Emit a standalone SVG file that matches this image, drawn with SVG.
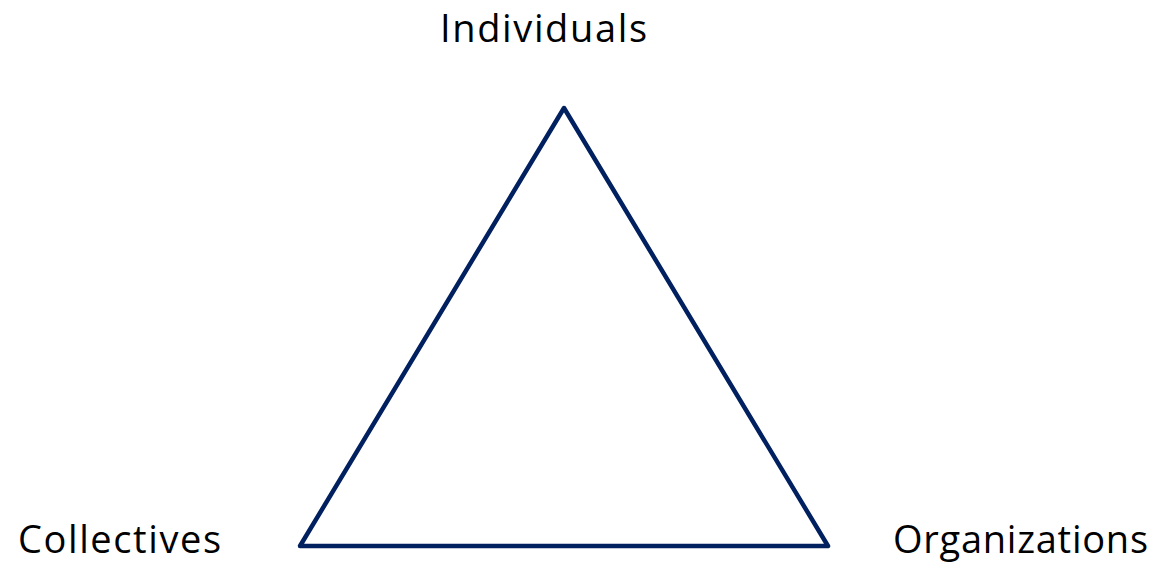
<svg xmlns="http://www.w3.org/2000/svg" width="1163" height="563" viewBox="0 0 1163 563">
<style>
.lbl{font-family:"Open Sans","Liberation Sans",sans-serif;font-size:38px;fill:#000}
.edge{stroke:#002060;stroke-width:4.5;fill:none;stroke-linejoin:round}
</style>
<rect width="1163" height="563" fill="#fff"/>
<g id="connectors">
<path class="edge" d="M564,108 L828,546 L300,546 Z"/>
</g>
<g id="individuals"><text class="lbl" x="440" y="42" textLength="207">Individuals</text></g>
<g id="collectives"><text class="lbl" x="18" y="553" textLength="203">Collectives</text></g>
<g id="organizations"><text class="lbl" x="893" y="553" textLength="255">Organizations</text></g>
</svg>
